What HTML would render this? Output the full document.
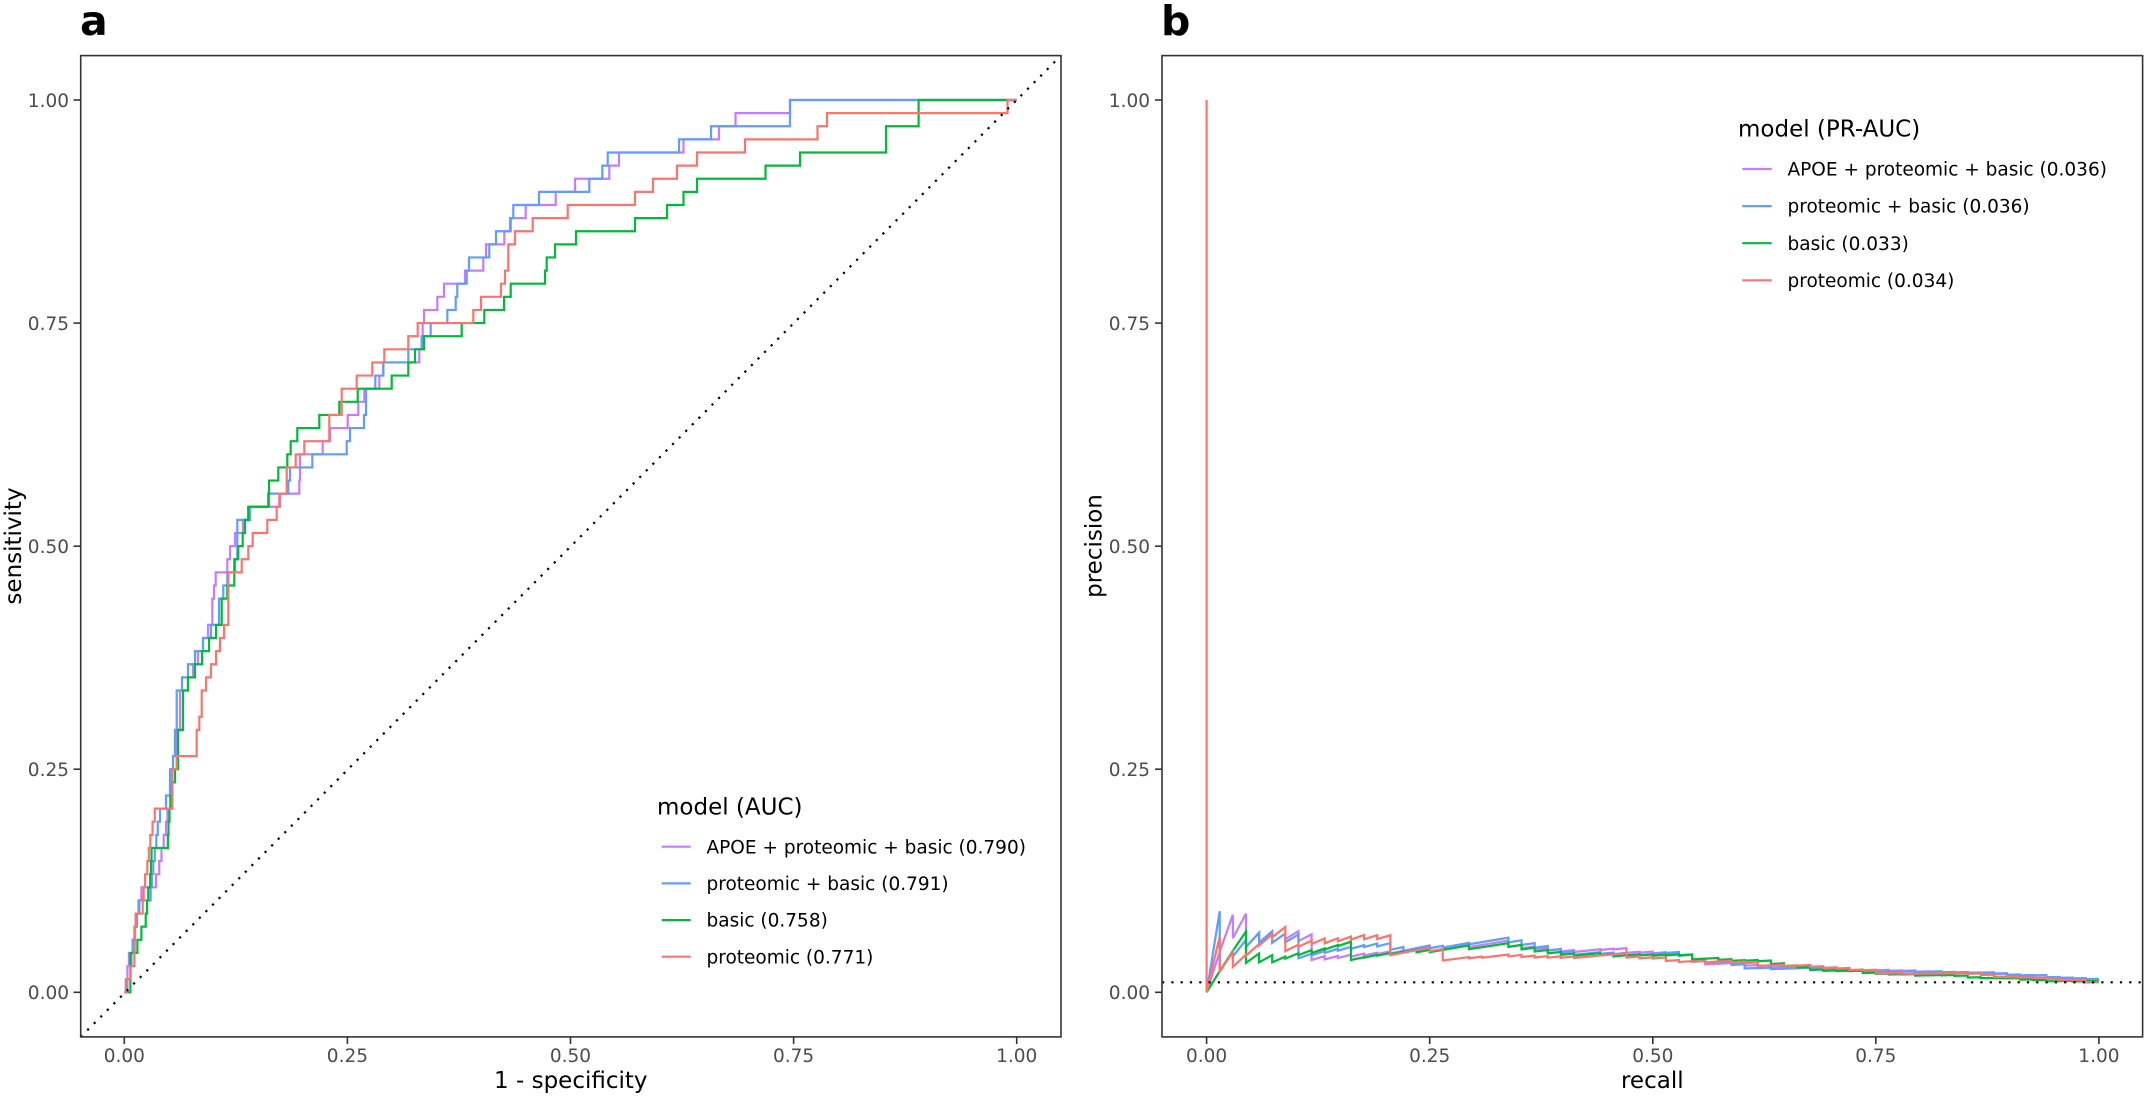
<!DOCTYPE html>
<html><head><meta charset="utf-8">
<style>
html,body{margin:0;padding:0;background:#fff;}
svg{display:block;}
text{font-family:"DejaVu Sans","Liberation Sans",sans-serif;}
.tk{font-size:18.5px;fill:#4d4d4d;}
.ti{font-size:23px;fill:#000;}
.lg{font-size:18.5px;fill:#000;}
</style></head><body>
<svg id="s" width="2146" height="1097" viewBox="0 0 2146 1097" xmlns="http://www.w3.org/2000/svg">
<defs>
<clipPath id="ca"><rect x="80.7" y="55.6" width="980.3" height="981.3"/></clipPath>
<clipPath id="cb"><rect x="1162" y="55.6" width="980.6" height="981.3"/></clipPath>
</defs>
<rect width="2146" height="1097" fill="#fff"/>

<!-- panel labels -->
<text x="80" y="35" style="font-size:41px;font-weight:bold;fill:#000">a</text>
<text x="1161" y="35" style="font-size:41px;font-weight:bold;fill:#000">b</text>

<!-- curves -->
<g id="rocs" clip-path="url(#ca)" fill="none" stroke-width="2.2"></g>
<g id="prs" clip-path="url(#cb)" fill="none" stroke-width="2.2" stroke-linejoin="miter"></g>

<!-- reference lines -->
<line x1="80.7" y1="1036.9" x2="1061" y2="55.6" stroke="#000" stroke-width="2.2" stroke-dasharray="2.2 7.1" clip-path="url(#ca)"/>
<line x1="1162" y1="982.3" x2="2142.6" y2="982.3" stroke="#000" stroke-width="2.2" stroke-dasharray="2.2 7.1" clip-path="url(#cb)"/>

<!-- panel borders -->
<rect x="80.7" y="55.6" width="980.3" height="981.3" fill="none" stroke="#333" stroke-width="1.6"/>
<rect x="1162" y="55.6" width="980.6" height="981.3" fill="none" stroke="#333" stroke-width="1.6"/>

<!-- ticks panel a -->
<g stroke="#333" stroke-width="1.6">
<line x1="73.5" y1="992.3" x2="80.7" y2="992.3"/>
<line x1="73.5" y1="769.2" x2="80.7" y2="769.2"/>
<line x1="73.5" y1="546.2" x2="80.7" y2="546.2"/>
<line x1="73.5" y1="323.1" x2="80.7" y2="323.1"/>
<line x1="73.5" y1="100" x2="80.7" y2="100"/>
<line x1="124.3" y1="1036.9" x2="124.3" y2="1044"/>
<line x1="347.4" y1="1036.9" x2="347.4" y2="1044"/>
<line x1="570.5" y1="1036.9" x2="570.5" y2="1044"/>
<line x1="793.6" y1="1036.9" x2="793.6" y2="1044"/>
<line x1="1016.7" y1="1036.9" x2="1016.7" y2="1044"/>
<!-- panel b -->
<line x1="1155" y1="992.3" x2="1162" y2="992.3"/>
<line x1="1155" y1="769.2" x2="1162" y2="769.2"/>
<line x1="1155" y1="546.2" x2="1162" y2="546.2"/>
<line x1="1155" y1="323.1" x2="1162" y2="323.1"/>
<line x1="1155" y1="100" x2="1162" y2="100"/>
<line x1="1206.6" y1="1036.9" x2="1206.6" y2="1044"/>
<line x1="1429.7" y1="1036.9" x2="1429.7" y2="1044"/>
<line x1="1652.8" y1="1036.9" x2="1652.8" y2="1044"/>
<line x1="1875.8" y1="1036.9" x2="1875.8" y2="1044"/>
<line x1="2098.9" y1="1036.9" x2="2098.9" y2="1044"/>
</g>

<!-- tick labels a -->
<g class="tk" text-anchor="end">
<text x="69" y="999.2">0.00</text>
<text x="69" y="776.1">0.25</text>
<text x="69" y="553.1">0.50</text>
<text x="69" y="330">0.75</text>
<text x="69" y="106.9">1.00</text>
<text x="1150" y="999.2">0.00</text>
<text x="1150" y="776.1">0.25</text>
<text x="1150" y="553.1">0.50</text>
<text x="1150" y="330">0.75</text>
<text x="1150" y="106.9">1.00</text>
</g>
<g class="tk" text-anchor="middle">
<text x="124.3" y="1062">0.00</text>
<text x="347.4" y="1062">0.25</text>
<text x="570.5" y="1062">0.50</text>
<text x="793.6" y="1062">0.75</text>
<text x="1016.7" y="1062">1.00</text>
<text x="1206.6" y="1062">0.00</text>
<text x="1429.7" y="1062">0.25</text>
<text x="1652.8" y="1062">0.50</text>
<text x="1875.8" y="1062">0.75</text>
<text x="2098.9" y="1062">1.00</text>
</g>

<!-- axis titles -->
<text class="ti" x="570.8" y="1088" text-anchor="middle">1 - specificity</text>
<text class="ti" x="1652.3" y="1088" text-anchor="middle">recall</text>
<text class="ti" transform="translate(21,546) rotate(-90)" text-anchor="middle">sensitivity</text>
<text class="ti" transform="translate(1101.7,546) rotate(-90)" text-anchor="middle">precision</text>

<!-- legend a -->
<text class="ti" x="657" y="814.3">model (AUC)</text>
<g stroke-width="2.2">
<line x1="661.7" y1="846.7" x2="690.7" y2="846.7" stroke="#C77CFF"/>
<line x1="661.7" y1="883.4" x2="690.7" y2="883.4" stroke="#619CFF"/>
<line x1="661.7" y1="920.1" x2="690.7" y2="920.1" stroke="#00BA38"/>
<line x1="661.7" y1="956.7" x2="690.7" y2="956.7" stroke="#F8766D"/>
</g>
<text class="lg" x="706.5" y="853.3">APOE + proteomic + basic (0.790)</text>
<text class="lg" x="706.5" y="890">proteomic + basic (0.791)</text>
<text class="lg" x="706.5" y="926.7">basic (0.758)</text>
<text class="lg" x="706.5" y="963.3">proteomic (0.771)</text>

<!-- legend b -->
<text class="ti" x="1738" y="136.7">model (PR-AUC)</text>
<g stroke-width="2.2">
<line x1="1742.3" y1="169" x2="1771.7" y2="169" stroke="#C77CFF"/>
<line x1="1742.3" y1="206.1" x2="1771.7" y2="206.1" stroke="#619CFF"/>
<line x1="1742.3" y1="243.2" x2="1771.7" y2="243.2" stroke="#00BA38"/>
<line x1="1742.3" y1="280.3" x2="1771.7" y2="280.3" stroke="#F8766D"/>
</g>
<text class="lg" x="1787.5" y="175.6">APOE + proteomic + basic (0.036)</text>
<text class="lg" x="1787.5" y="212.7">proteomic + basic (0.036)</text>
<text class="lg" x="1787.5" y="249.8">basic (0.033)</text>
<text class="lg" x="1787.5" y="286.9">proteomic (0.034)</text>
</svg>

<script>
(function(){
var NS="http://www.w3.org/2000/svg";
var X0=124.3, SX=892.4, Y0=992.3, SY=892.3, N=6000, KY=SY/68;
var BX0=1206.6, BSX=892.3;
function fx(F){return X0+F/N*SX;}
function build(low, steps){
  var F=new Array(68), k;
  for(k=0;k<low.length;k++)F[k]=low[k];
  var lvl=low.length;
  for(var s=0;s<steps.length;s++){
    var x=steps[s][0], kn=steps[s][1];
    var f=(x-X0)/SX*N;
    for(k=lvl;k<kn;k++)F[k]=f;
    lvl=kn;
  }
  for(k=lvl;k<68;k++)F[k]=F[lvl-1];
  return F;
}
var curves=[
 {col:"#C77CFF", red:false,
  low:[21,21,31,56,71,85,95,115,213,235,250,265,280,290],
  steps:[[170,15],[172,17],[177,20],[180,23],[188,24],[193,25],[198,26],[203,27],[208,28],[212.3,30],[214,31],[215.7,32],[227.3,33],[230,34],[235,35],[243,36],[248.3,37],[280,38],[299.3,39],[300,41],[322.7,42],[330,43],[347.7,44],[358.3,45],[364.3,46],[379.3,47],[383.3,48],[419.3,49],[421.7,50],[422.7,51],[424,52],[437.3,53],[444,54],[465,55],[483.3,56],[486,57],[504.3,58],[510,59],[525.7,60],[555.7,61],[575,62],[609.3,63],[619,64],[683.5,65],[719,66],[735.5,67],[790,68]]},
 {col:"#619CFF", red:false,
  low:[10,42,48,56,68,85,101,177,185,195,205,215,225,240],
  steps:[[166,15],[170,17],[173,18],[175,20],[176.7,23],[182,24],[188,25],[195,26],[203,27],[211,28],[219,30],[223.3,31],[227.3,32],[235,33],[237.3,36],[250,37],[269,38],[288.3,39],[290,40],[312.3,41],[346.7,42],[350,43],[364,44],[366,46],[375.3,47],[383.3,48],[408.3,49],[421.7,50],[430.7,51],[447.3,52],[455.7,53],[457.3,54],[466.7,55],[469,56],[489.3,57],[496,58],[510.7,59],[513.3,60],[539,61],[589.3,62],[602.3,63],[607.7,64],[679,65],[711,66],[790,68]]},
 {col:"#00BA38", red:false,
  low:[41,41,41,88,115,144,153,161,174,179,183,293],
  steps:[[168.5,13],[169.5,14],[171,15],[172,16],[175,17],[178,20],[183,23],[188,24],[195,25],[202,26],[209,27],[216,28],[221.7,30],[227.3,31],[234.3,33],[238.3,34],[242.7,35],[245,36],[248.3,37],[268.3,38],[269,39],[278.3,40],[287.3,41],[290.7,42],[297.3,43],[319.3,44],[339.3,45],[357.7,46],[391.7,47],[408.3,48],[415,49],[424,50],[461.7,51],[484.3,52],[504,53],[510.7,54],[545,55],[546.7,56],[555,57],[576,58],[635,59],[667,60],[683.5,61],[697,62],[765.5,63],[800,64],[886,66],[918.6,68]]},
 {col:"#F8766D", red:true,
  low:[15,42,68,70,72,76,124,130,140,155,165,175,190,205],
  steps:[[172.3,17],[176.7,18],[196.7,20],[199.3,21],[201.7,23],[206,24],[211,25],[216,26],[220,27],[224,28],[228.3,32],[241.7,33],[248.3,34],[252.7,35],[267.3,36],[276.7,37],[279.3,38],[286.7,40],[295.7,41],[304.3,42],[329.3,44],[341.7,46],[356.7,47],[372.3,48],[384.3,49],[408.3,50],[417.7,51],[473.3,52],[481,53],[501,54],[505,55],[508.3,57],[515,58],[532.7,59],[567.7,60],[635,61],[653,62],[677,63],[697,64],[745,65],[817.5,66],[827,67],[1007.5,68]]}
];
var gR=document.getElementById("rocs"), gP=document.getElementById("prs");
for(var c=0;c<curves.length;c++){
  var cv=curves[c], F=build(cv.low, cv.steps), k, i;
  var d="M"+X0+" "+Y0;
  for(k=0;k<68;k++){
    d+=" H"+fx(F[k]).toFixed(2)+" V"+(Y0-(k+1)*KY).toFixed(2);
  }
  d+=" H"+(X0+SX).toFixed(2);
  var p=document.createElementNS(NS,"path");
  p.setAttribute("d",d); p.setAttribute("stroke",cv.col);
  gR.appendChild(p);
  var pts=[];
  if(cv.red) pts.push([0,1]);
  pts.push([0,0]);
  for(i=1;i<=68;i++){
    pts.push([i/68, i/(i+F[i-1])]);
    if(i<68) pts.push([i/68, i/(i+F[i])]);
  }
  var d2="";
  for(i=0;i<pts.length;i++){
    d2+=(i?" L":"M")+(BX0+pts[i][0]*BSX).toFixed(2)+" "+(Y0-pts[i][1]*SY).toFixed(2);
  }
  var q=document.createElementNS(NS,"path");
  q.setAttribute("d",d2); q.setAttribute("stroke",cv.col);
  gP.appendChild(q);
}
})();
</script>
</body></html>
